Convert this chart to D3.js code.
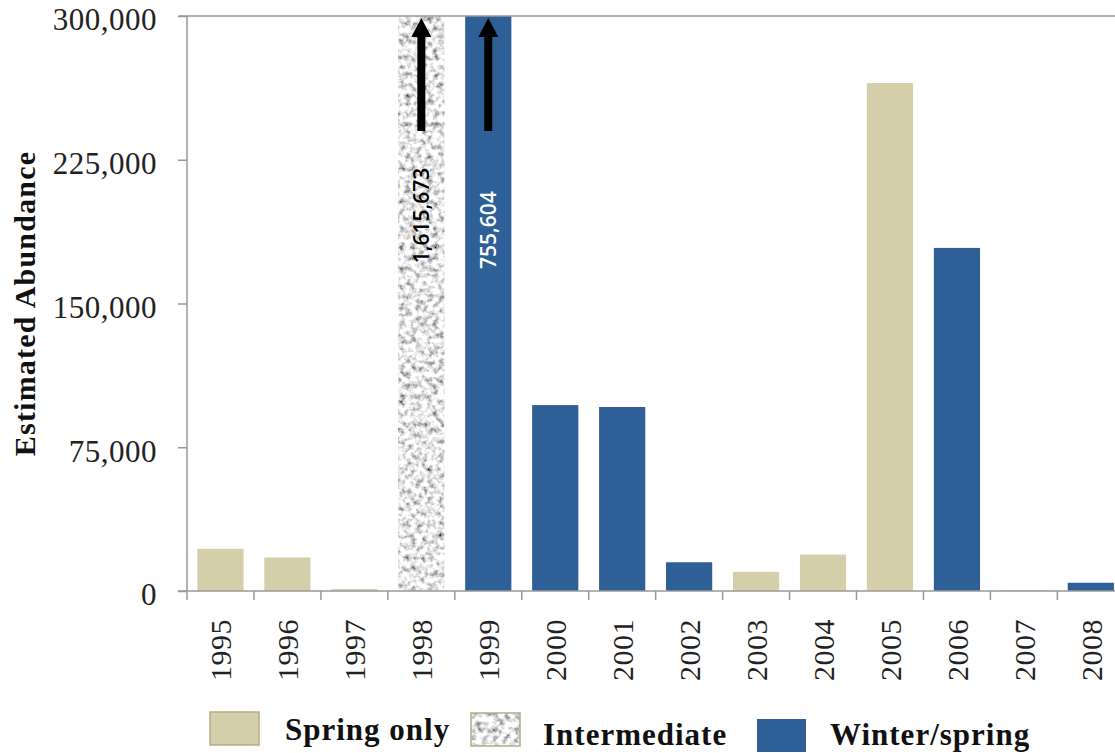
<!doctype html>
<html lang="en">
<head>
<meta charset="utf-8">
<script src="https://cdnjs.cloudflare.com/ajax/libs/d3/7.8.5/d3.min.js"></script>
<style>
  body { margin: 0; background: #fff; }
  svg { display: block; }
  .serif { font-family: 'Liberation Serif', 'DejaVu Serif', serif; }
  #y-axis text { font-size: 31px; fill: #222; letter-spacing: 0.5px; }
  #y-axis line, #y-axis path { stroke: #999; stroke-width: 1.5; }
</style>
</head>
<body>
<script>

// Data
const years = ["1995","1996","1997","1998","1999","2000","2001","2002","2003","2004","2005","2006","2007","2008"]
const abundance = [22000, 17500, 1000, 1615673, 755604, 97000, 96000, 15000, 10000, 19000, 265000, 179000, 500, 4300]
const season = ["spring","spring","spring","inter","winter","winter","winter","winter","spring","spring","spring","winter","spring","winter"]
const yTicks = [0, 75000, 150000, 225000, 300000]
const legendKeys = ["spring", "inter", "winter"]
const legendLabels = ["Spring only", "Intermediate", "Winter/spring"]
// bars running off the top get an arrow and their value written on them
const offScale = ["1998", "1999"]

const w = 1115
const h = 753
const plotLeft = 187
const plotTop = 16
const plotBottom = 591

const colors = { spring: "#d5ceab", winter: "#2e6097" }

const svg = d3.select("body")
  .append("svg")
  .attr("width", w)
  .attr("height", h)

// speckled grey texture for the "Intermediate" bar
const defs = svg.append("defs")
const f = defs.append("filter")
  .attr("id", "speckle")
  .attr("x", 0).attr("y", 0).attr("width", 1).attr("height", 1)
f.append("feTurbulence")
  .attr("type", "fractalNoise")
  .attr("baseFrequency", 0.18)
  .attr("numOctaves", 3)
  .attr("seed", 7)
  .attr("result", "noise")
f.append("feColorMatrix")
  .attr("in", "noise")
  .attr("type", "matrix")
  .attr("values", "1.9 0 0 0 -0.15  1.9 0 0 0 -0.15  1.9 0 0 0 -0.15  0 0 0 0 1")
  .attr("result", "grey")
f.append("feGaussianBlur")
  .attr("in", "grey")
  .attr("stdDeviation", 0.6)
  .attr("result", "soft")
f.append("feComposite")
  .attr("in", "soft")
  .attr("in2", "SourceGraphic")
  .attr("operator", "in")

const fillFor = (k) => k == "inter" ? "#c8c8c8" : colors[k]

// Scales
const x = d3.scaleBand()
  .domain(years)
  .range([plotLeft, plotLeft + 14 * 66.95])
  .paddingInner(0.31)
  .paddingOuter(0.155)

const y = d3.scaleLinear()
  .domain([0, 300000])
  .range([plotBottom, plotTop])

const values = years.map((d, i) => ({ year: d, value: abundance[i], key: season[i] }))

// Bars (clipped at top of plot)
svg.append("clipPath").attr("id", "plot")
  .append("rect")
  .attr("x", plotLeft).attr("y", plotTop)
  .attr("width", w - plotLeft).attr("height", plotBottom - plotTop)

svg.append("g")
  .attr("clip-path", "url(#plot)")
  .selectAll("rect")
  .data(values)
  .enter()
  .append("rect")
  .attr("x", d => x(d.year))
  .attr("y", d => y(Math.min(d.value, 300000)))
  .attr("width", x.bandwidth())
  .attr("height", d => plotBottom - y(Math.min(d.value, 300000)))
  .attr("fill", d => fillFor(d.key))
  .attr("filter", d => d.key == "inter" ? "url(#speckle)" : null)

// top frame line
svg.append("line")
  .attr("x1", plotLeft - 8).attr("x2", w)
  .attr("y1", y(300000)).attr("y2", y(300000))
  .attr("stroke", "#999").attr("stroke-width", 1.5)

// y axis
svg.append("g")
  .attr("id", "y-axis")
  .attr("class", "serif")
  .attr("transform", "translate(" + plotLeft + ",0)")
  .call(d3.axisLeft(y).tickValues(yTicks).tickSize(9).tickPadding(21).tickFormat(d3.format(",")))
  .call(g => g.select(".domain").attr("d", "M0," + plotTop + "V" + plotBottom))
  .call(g => g.selectAll(".tick text").attr("dy", "0.45em"))

// x axis line + ticks at band boundaries
const half = (x.step() - x.bandwidth()) / 2
const bounds = years.map(d => x(d) - half).concat([x(years[years.length - 1]) + x.bandwidth() + half])
svg.append("line")
  .attr("x1", plotLeft - 9).attr("x2", w)
  .attr("y1", plotBottom).attr("y2", plotBottom)
  .attr("stroke", "#999").attr("stroke-width", 1.5)
svg.selectAll(".xtick")
  .data(bounds)
  .enter()
  .append("line")
  .attr("x1", d => d).attr("x2", d => d)
  .attr("y1", plotBottom).attr("y2", plotBottom + 9)
  .attr("stroke", "#999").attr("stroke-width", 1.5)

// year labels
svg.selectAll(".year")
  .data(years)
  .enter()
  .append("text")
  .attr("class", "serif")
  .attr("transform", d => "translate(" + (x(d) + x.bandwidth() / 2 + 11) + "," + (plotBottom + 28) + ") rotate(-90)")
  .attr("text-anchor", "end")
  .attr("font-size", 30)
  .attr("letter-spacing", 0.5)
  .attr("fill", "#222")
  .text(d => d)

// arrows and values for off-scale bars
const big = values.filter(d => offScale.includes(d.year))
const cx = d => x(d.year) + x.bandwidth() / 2
svg.selectAll(".shaft")
  .data(big)
  .enter()
  .append("rect")
  .attr("x", d => cx(d) - 4)
  .attr("y", y(290000))
  .attr("width", 8)
  .attr("height", y(240000) - y(290000))
  .attr("fill", "#000")
svg.selectAll(".head")
  .data(big)
  .enter()
  .append("path")
  .attr("d", d => "M" + (cx(d) - 10) + "," + y(289000) + "L" + cx(d) + "," + y(299000) + "L" + (cx(d) + 10) + "," + y(289000) + "Z")
  .attr("fill", "#000")
svg.selectAll(".bigval")
  .data(big)
  .enter()
  .append("text")
  .attr("transform", d => "translate(" + (cx(d) + 8) + "," + (d.key == "inter" ? y(171000) : y(168000)) + ") rotate(-90)")
  .attr("font-family", "'Open Sans', sans-serif")
  .attr("font-weight", 600)
  .attr("font-size", 21)
  .attr("fill", d => d.key == "inter" ? "#000" : "#fff")
  .text(d => d3.format(",")(d.value))

// y axis title
svg.append("text")
  .attr("class", "serif")
  .attr("transform", "translate(35," + ((plotTop + plotBottom) / 2) + ") rotate(-90)")
  .attr("text-anchor", "middle")
  .attr("font-weight", "bold")
  .attr("font-size", 30)
  .attr("letter-spacing", 1.2)
  .attr("fill", "#111")
  .text("Estimated Abundance")

// legend
const legendX = [210, 471, 757]
const legendY = [712, 713, 719]
const legendBase = [740, 745, 745]
const lg = svg.selectAll(".legend")
  .data(legendKeys)
  .enter()
  .append("g")
  .attr("transform", (d, i) => "translate(" + legendX[i] + ",0)")
lg.append("rect")
  .attr("y", (d, i) => legendY[i])
  .attr("width", 49).attr("height", 33)
  .attr("fill", d => fillFor(d))
  .attr("filter", d => d == "inter" ? "url(#speckle)" : null)
lg.append("rect")
  .attr("y", (d, i) => legendY[i])
  .attr("width", 49).attr("height", 33)
  .attr("fill", "none")
  .attr("stroke", d => d == "winter" ? "none" : "#b5ad86")
  .attr("stroke-width", 1.5)
lg.append("text")
  .attr("class", "serif")
  .attr("x", (d, i) => [75, 72, 73][i])
  .attr("y", (d, i) => legendBase[i])
  .attr("font-weight", "bold")
  .attr("font-size", 31)
  .attr("letter-spacing", 1)
  .attr("fill", "#111")
  .text((d, i) => legendLabels[i])

</script>
</body>
</html>
